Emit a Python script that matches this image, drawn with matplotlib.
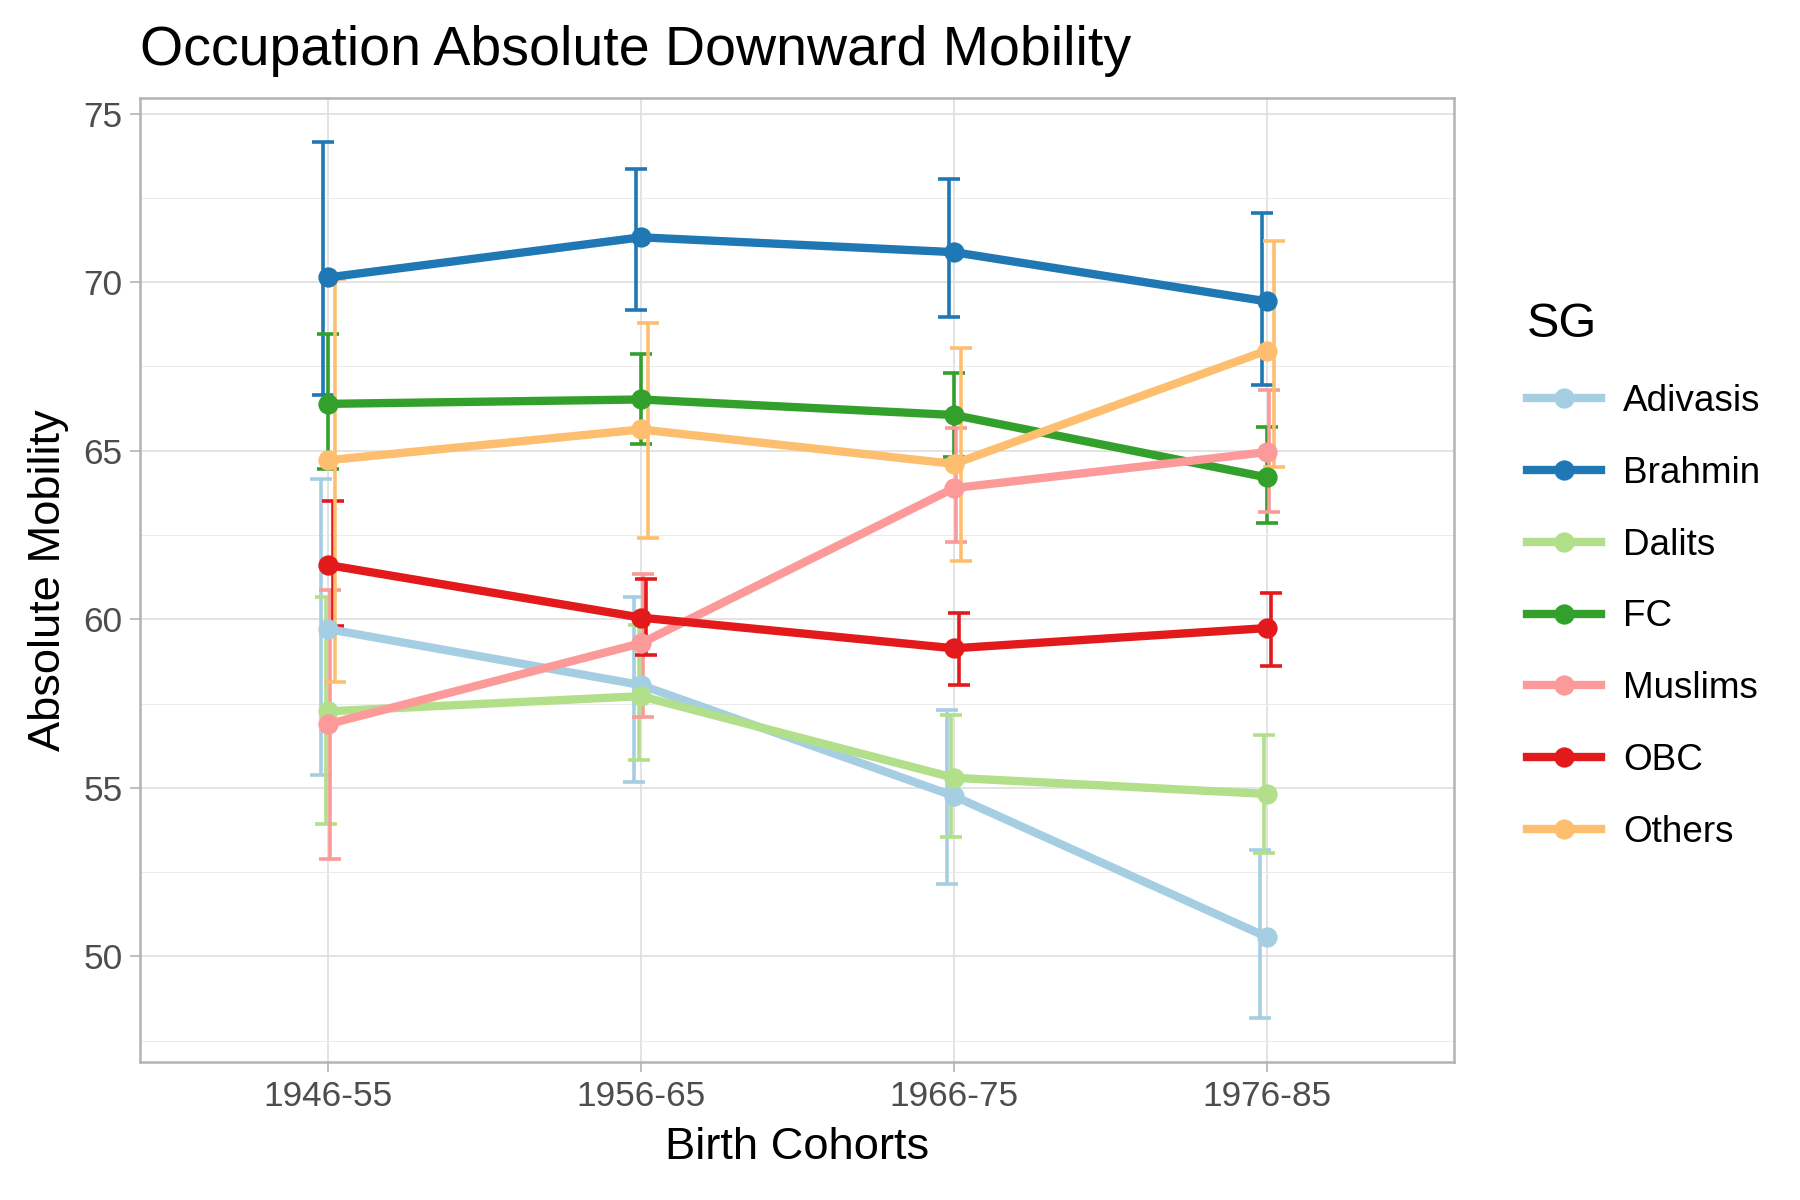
import numpy as np
import matplotlib
matplotlib.use("Agg")
import matplotlib.pyplot as plt
from matplotlib.ticker import MultipleLocator

plt.rcParams['font.family'] = ['Liberation Sans', 'DejaVu Sans']

# ---- data ----
cohorts = ["1946-55", "1956-65", "1966-75", "1976-85"]
groups = ["Adivasis", "Brahmin", "Dalits", "FC", "Muslims", "OBC", "Others"]
colors = ["#A6CEE3", "#1F78B4", "#B2DF8A", "#33A02C", "#FB9A99", "#E31A1C", "#FDBF6F"]

adivasis = [59.71, 58.05, 54.76, 50.58]
adivasis_lo = [55.37, 55.17, 52.16, 48.17]
adivasis_hi = [64.16, 60.67, 57.30, 53.17]

brahmin = [70.14, 71.33, 70.89, 69.43]
brahmin_lo = [66.64, 69.17, 68.96, 66.95]
brahmin_hi = [74.16, 73.35, 73.06, 72.06]

dalits = [57.27, 57.72, 55.30, 54.82]
dalits_lo = [53.93, 55.82, 53.54, 53.06]
dalits_hi = [60.67, 59.82, 57.16, 56.58]

fc = [66.39, 66.52, 66.06, 64.21]
fc_lo = [64.47, 65.21, 64.80, 62.87]
fc_hi = [68.46, 67.88, 67.30, 65.70]

muslims = [56.89, 59.29, 63.89, 64.96]
muslims_lo = [52.90, 57.10, 62.28, 63.17]
muslims_hi = [60.87, 61.35, 65.67, 66.79]

obc = [61.61, 60.05, 59.14, 59.74]
obc_lo = [59.80, 58.93, 58.05, 58.63]
obc_hi = [63.52, 61.19, 60.18, 60.79]

others = [64.72, 65.63, 64.61, 67.97]
others_lo = [58.15, 62.42, 61.74, 64.51]
others_hi = [70.09, 68.78, 68.05, 71.22]

means = [adivasis, brahmin, dalits, fc, muslims, obc, others]
lows = [adivasis_lo, brahmin_lo, dalits_lo, fc_lo, muslims_lo, obc_lo, others_lo]
highs = [adivasis_hi, brahmin_hi, dalits_hi, fc_hi, muslims_hi, obc_hi, others_hi]

fig = plt.figure(figsize=(9, 6), dpi=200)
ax = fig.add_axes([0.078, 0.115, 0.730, 0.803])

x = np.arange(len(cohorts))
dodge = 0.0075

# error bars first (dodged a little), then lines, then points
for i, g in enumerate(groups):
    m = np.array(means[i])
    lo = m - np.array(lows[i])
    hi = np.array(highs[i]) - m
    ax.errorbar(x + (i - 3) * dodge, m, yerr=[lo, hi], fmt="none",
                ecolor=colors[i], elinewidth=1.3, capsize=4.0, capthick=1.3, zorder=2)

for i, g in enumerate(groups):
    ax.plot(x, means[i], color=colors[i], lw=3.0, solid_capstyle="butt", zorder=3)

for i, g in enumerate(groups):
    ax.plot(x, means[i], "o", color=colors[i], ms=6.3, zorder=4)

# legend handles
handles = []
for i, g in enumerate(groups):
    h, = ax.plot([], [], color=colors[i], lw=3.0, marker="o", ms=6.3, label=g)
    handles.append(h)

ax.set_xlim(-0.6, 3.6)
ax.set_ylim(46.87, 75.45)
ax.set_xticks(x)
ax.set_xticklabels(cohorts)
ax.yaxis.set_major_locator(MultipleLocator(5))
ax.yaxis.set_minor_locator(MultipleLocator(2.5))

ax.grid(which="major", color="#DEDEDE", lw=0.6, zorder=0)
ax.grid(which="minor", axis="y", color="#EBEBEB", lw=0.35, zorder=0)
ax.set_axisbelow(True)
for s in ax.spines.values():
    s.set_color("#B3B3B3")
    s.set_linewidth(0.9)
ax.tick_params(which="major", color="#B3B3B3", length=3.5, width=0.6,
               labelsize=12.7, labelcolor="#4D4D4D", pad=3)
ax.tick_params(which="minor", length=0)

ax.set_xlabel("Birth Cohorts", fontsize=16.3, labelpad=5)
ax.set_ylabel("Absolute Mobility", fontsize=16.3, labelpad=5)
ax.set_title("Occupation Absolute Downward Mobility", fontsize=20, loc="left", pad=12)

leg = fig.legend(handles=handles, title="SG", loc="center left",
                 bbox_to_anchor=(0.83, 0.52), frameon=False, fontsize=13.3,
                 title_fontsize=17.5, handlelength=2.0, handletextpad=0.6,
                 labelspacing=1.0, alignment="left")

fig.savefig("out.png", dpi=200)
